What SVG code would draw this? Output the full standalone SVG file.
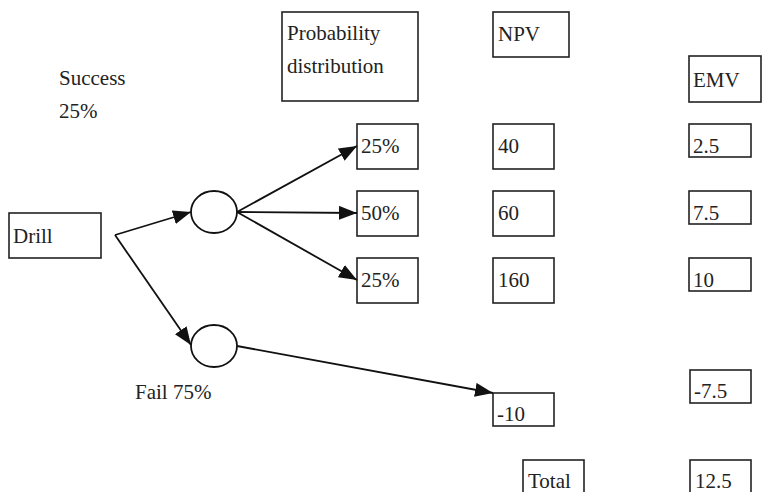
<svg xmlns="http://www.w3.org/2000/svg" width="763" height="492" viewBox="0 0 763 492">
<style>
.box{fill:#fff;stroke:#222;stroke-width:1.6}
.t{font-family:'Liberation Serif','DejaVu Serif',serif;font-size:21px;fill:#222}
.node{fill:#fff;stroke:#111;stroke-width:1.8}
.edge{fill:none;stroke:#111;stroke-width:1.8}
</style>
<defs>
<marker id="ah" markerUnits="userSpaceOnUse" markerWidth="20" markerHeight="14" refX="18" refY="7" orient="auto">
<path d="M0,0 L18,7 L0,14 Z" fill="#111"/>
</marker>
</defs>
<rect width="763" height="492" fill="#fff"/>
<g id="header-prob"><rect class="box" x="282" y="12" width="136" height="89"/><text class="t" x="287" y="40" font-family="Liberation Serif, serif">Probability</text><text class="t" x="287" y="73" font-family="Liberation Serif, serif">distribution</text></g>
<g id="header-npv"><rect class="box" x="493" y="12" width="76" height="45"/><text class="t" x="498" y="41">NPV</text></g>
<g id="header-emv"><rect class="box" x="689" y="56" width="72" height="46"/><text class="t" x="693" y="87">EMV</text></g>
<g id="label-success"><text class="t" x="59" y="85">Success</text><text class="t" x="59" y="118">25%</text></g>
<g id="label-fail"><text class="t" x="135" y="399">Fail 75%</text></g>
<g id="drill"><rect class="box" x="9" y="213" width="92" height="45"/><text class="t" x="13" y="243">Drill</text></g>
<g id="chance-success"><ellipse class="node" cx="214" cy="212" rx="23" ry="21"/></g>
<g id="chance-fail"><ellipse class="node" cx="214" cy="346" rx="23" ry="21"/></g>
<g id="p1"><rect class="box" x="357" y="124" width="61" height="45"/><text class="t" x="361" y="153">25%</text></g>
<g id="p2"><rect class="box" x="357" y="191" width="61" height="45"/><text class="t" x="361" y="220">50%</text></g>
<g id="p3"><rect class="box" x="357" y="258" width="61" height="45"/><text class="t" x="361" y="287">25%</text></g>
<g id="npv1"><rect class="box" x="493" y="124" width="61" height="45"/><text class="t" x="498" y="153">40</text></g>
<g id="npv2"><rect class="box" x="493" y="191" width="61" height="45"/><text class="t" x="498" y="220">60</text></g>
<g id="npv3"><rect class="box" x="493" y="258" width="61" height="45"/><text class="t" x="498" y="287">160</text></g>
<g id="npv-fail"><rect class="box" x="493" y="393" width="61" height="33"/><text class="t" x="497" y="421">-10</text></g>
<g id="emv1"><rect class="box" x="689" y="124" width="62" height="33"/><text class="t" x="693" y="153">2.5</text></g>
<g id="emv2"><rect class="box" x="689" y="191" width="62" height="33"/><text class="t" x="693" y="220">7.5</text></g>
<g id="emv3"><rect class="box" x="689" y="258" width="62" height="33"/><text class="t" x="693" y="287">10</text></g>
<g id="emv-fail"><rect class="box" x="690" y="370" width="61" height="33"/><text class="t" x="694" y="398">-7.5</text></g>
<g id="total"><rect class="box" x="523" y="460" width="61" height="40"/><text class="t" x="528" y="488">Total</text></g>
<g id="emv-total"><rect class="box" x="690" y="460" width="61" height="40"/><text class="t" x="695" y="488">12.5</text></g>
<g id="connectors">
<line class="edge" x1="115" y1="235" x2="191" y2="212" marker-end="url(#ah)"/>
<line class="edge" x1="115" y1="235" x2="191" y2="345" marker-end="url(#ah)"/>
<line class="edge" x1="237" y1="212" x2="357" y2="146" marker-end="url(#ah)"/>
<line class="edge" x1="237" y1="212" x2="357" y2="213" marker-end="url(#ah)"/>
<line class="edge" x1="237" y1="212" x2="357" y2="280" marker-end="url(#ah)"/>
<line class="edge" x1="237" y1="346" x2="493" y2="393" marker-end="url(#ah)"/>
</g>
</svg>
